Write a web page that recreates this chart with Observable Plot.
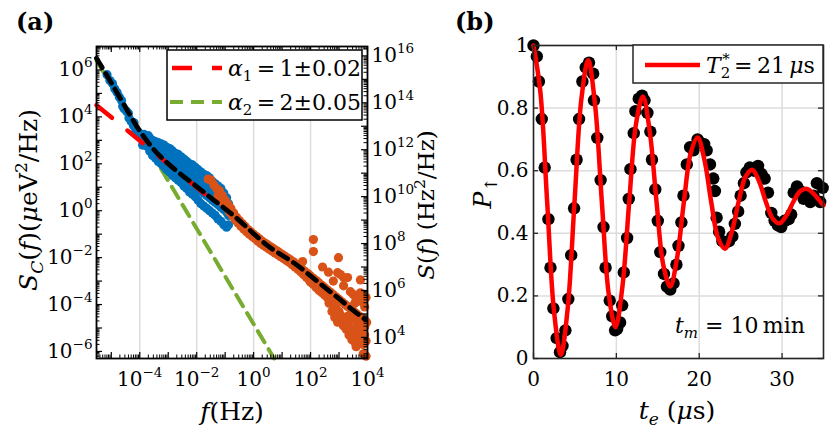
<!DOCTYPE html>
<html><head><meta charset="utf-8">
<script src="https://cdn.jsdelivr.net/npm/d3@7"></script>
<script src="https://cdn.jsdelivr.net/npm/@observablehq/plot@0.6"></script>
<style>
body{margin:0;background:#fff;}
#wrap{position:relative;width:830px;height:430px;overflow:hidden;background:#fff;}
#wrap svg{position:absolute;top:0;overflow:visible;}
</style></head><body><div id="wrap"></div>
<script>
// ---------------- Panel (a) data (log10 values) ----------------
const blueTrackLogF = [-5.15,-5.05,-4.96,-4.88,-4.8,-4.72,-4.64,-4.6,-4.55,-4.47,-4.4,-4.38,-4.3,-4.22,-4.2,-4.14,-4.05,-3.97,-3.9,-3.88,-3.85,-3.8,-3.75,-3.72,-3.7];
const blueTrackLogS = [5.8,5.55,5.42,5.2,5.05,4.85,4.7,4.45,4.35,4.25,4.15,3.95,3.8,3.62,3.75,3.45,3.35,3.2,2.8,3.12,3.25,3.05,2.75,2.95,3.2];
const blueBandLogF = [-3.65,-3.55,-3.45,-3.35,-3.25,-3.15,-3.05,-2.95,-2.85,-2.75,-2.65,-2.55,-2.45,-2.35,-2.25,-2.15,-2.05,-1.95,-1.85,-1.75,-1.65,-1.55,-1.45,-1.35,-1.25,-1.15,-1.05,-0.95,-0.88];
const blueBandTop = [3.1,3.0,2.95,2.9,2.85,2.8,2.7,2.65,2.55,2.45,2.4,2.3,2.2,2.1,2.0,1.95,1.85,1.75,1.65,1.55,1.5,1.4,1.25,1.15,1.05,0.95,0.75,0.55,0.3];
const blueBandUpper = [2.92,2.8,2.72,2.65,2.57,2.5,2.38,2.33,2.2,2.12,2.02,1.93,1.82,1.72,1.62,1.55,1.45,1.35,1.25,1.15,1.07,0.97,0.85,0.75,0.65,0.55,0.4,0.25,0.05];
const blueBandMid = [2.75,2.6,2.5,2.4,2.3,2.2,2.05,2.0,1.85,1.8,1.65,1.55,1.45,1.35,1.25,1.15,1.05,0.95,0.85,0.75,0.65,0.55,0.45,0.35,0.25,0.15,0.05,-0.05,-0.2];
const blueBandLow = [2.55,2.35,2.25,2.1,2.0,1.9,1.75,1.65,1.5,1.4,1.3,1.2,1.05,0.95,0.8,0.7,0.6,0.45,0.3,0.2,0.1,0.0,-0.1,-0.2,-0.35,-0.45,-0.6,-0.7,-0.6];

const orangeBandLogF = [-1.6,-1.5,-1.4,-1.3,-1.2,-1.1,-1.0,-0.9,-0.8,-0.7,-0.6,-0.5,-0.4,-0.3,-0.2,-0.1,0,0.1,0.2,0.3,0.4,0.5,0.6,0.7,0.8,0.9,1.0,1.1,1.2,1.3,1.4,1.5,1.6,1.7,1.8,1.9,2.0,2.1,2.2,2.3,2.4,2.5,2.6,2.7,2.8,2.9,3.0,3.1,3.2,3.3,3.4,3.5,3.6,3.7,3.8,3.9,3.97];
const orangeBandLogS = [1.35,1.3,1.1,0.95,0.85,0.65,0.45,0.28,0.1,-0.1,-0.28,-0.42,-0.55,-0.67,-0.8,-0.9,-1.0,-1.1,-1.2,-1.3,-1.38,-1.46,-1.54,-1.62,-1.7,-1.78,-1.86,-1.94,-2.02,-2.1,-2.18,-2.28,-2.38,-2.48,-2.58,-2.68,-2.78,-2.88,-2.98,-3.08,-3.18,-3.28,-3.38,-3.48,-3.58,-3.68,-3.78,-3.88,-3.98,-4.08,-4.18,-4.28,-4.38,-4.48,-4.58,-4.68,-4.75];
const orangeBand2LogF = [-1.25,-1.15,-1.05,-0.95,-0.85,-0.75,-0.65,-0.55,-0.45,-0.35,-0.25,-0.15,-0.05,0.05,0.15,0.25,0.35,0.45,0.55,0.65,0.75,0.85,0.95,1.05,1.15,1.25,1.35,1.45,1.55,1.65,1.75,1.85,1.95];
const orangeBand2LogS = [0.65,0.5,0.3,0.15,-0.05,-0.2,-0.38,-0.52,-0.66,-0.78,-0.9,-1.0,-1.1,-1.2,-1.3,-1.4,-1.48,-1.56,-1.64,-1.72,-1.8,-1.88,-1.96,-2.04,-2.12,-2.2,-2.3,-2.4,-2.5,-2.6,-2.72,-2.84,-2.95];
const orangeLowLogF = [2.0,2.1,2.2,2.3,2.4,2.5,2.6,2.65,2.7,2.75,2.8,2.85,2.9,2.95,3.0,3.05,3.1,3.15,3.2,3.25,3.3,3.35,3.4,3.45,3.5,3.55,3.6,3.65,3.7,3.75,3.8,3.85,3.9,3.95,3.5,3.6,3.7,3.8,3.9,3.85,3.95,3.3,3.4];
const orangeLowLogS = [-3.05,-3.15,-3.28,-3.4,-3.5,-3.6,-3.72,-3.95,-3.85,-4.3,-4.0,-4.55,-4.15,-4.75,-4.3,-4.45,-4.55,-4.9,-4.7,-5.05,-4.85,-5.3,-5.0,-5.5,-5.15,-5.6,-4.9,-5.35,-5.1,-5.5,-4.95,-5.7,-5.3,-5.55,-4.6,-5.8,-4.8,-5.25,-4.95,-6.1,-6.2,-4.5,-4.6];
const orangeOutLogF = [1.72,2.1,2.1,2.42,2.63,2.8,2.95,2.98,3.05,3.16,3.16,3.3,3.4,3.5,3.55,3.6,3.65,3.75,3.75,3.82,3.85,3.9,3.95];
const orangeOutLogS = [-2.17,-1.23,-1.74,-2.4,-2.62,-3.0,-2.64,-2.0,-2.72,-2.85,-3.2,-2.85,-3.45,-3.57,-3.95,-3.75,-3.87,-2.95,-3.5,-3.7,-3.9,-4.1,-3.7];

const fitLogF   = [-5.52,-5.0,-4.5,-4.0,-3.5,-3.0,-2.5,-2.0,-1.5,-1.0,-0.5,0.0,0.5,1.0,1.5,2.0,2.5,3.0,3.5,3.93];
const fitLogS   = [6.5,5.45,4.4,3.4,2.6,2.0,1.5,1.03,0.55,0.08,-0.42,-0.98,-1.5,-1.9,-2.3,-2.78,-3.27,-3.75,-4.25,-4.65];
const alpha1LogF = [-5.52,-1.4];
const alpha1LogS = [4.5,0.4];
const alpha2LogF = [-5.52,0.72];
const alpha2LogS = [6.4,-6.3];

const xTickExp = [-4,-2,0,2,4];
const yTickExp = [-6,-4,-2,0,2,4,6];
const rightTickExp = [4,6,8,10,12,14,16];
const RIGHT_OFFSET = 9.4;   // right axis = left axis × 10^9.4
const legendA = ["α", "1", "=1±0.02", "α", "2", "=2±0.05"];

// ---------------- Panel (b) data ----------------
const teData = [0.0,0.4,0.65,1.0,1.35,1.8,2.05,2.4,2.8,3.2,3.5,3.85,4.2,4.55,4.9,5.2,5.5,5.9,6.3,6.7,7.2,7.3,7.7,8.1,8.45,8.7,9.2,9.5,9.85,10.1,10.45,10.7,10.9,11.3,11.5,11.7,12.1,12.3,12.7,13.1,13.4,13.75,14.1,14.3,14.7,15.0,15.3,15.75,16.1,16.5,16.9,17.25,17.5,17.85,18.1,18.5,18.9,19.3,19.8,20.1,20.6,20.9,21.3,21.7,21.9,22.1,22.4,22.8,23.2,23.6,24.0,24.3,24.7,25.0,25.4,25.7,26.1,26.6,27.1,27.5,27.9,28.3,28.7,29.1,29.5,29.9,30.3,30.8,31.1,31.4,31.8,32.2,32.6,33.0,33.4,33.8,34.2,34.6,34.9];
const pData  = [1.0,0.965,0.885,0.765,0.61,0.445,0.29,0.16,0.065,0.02,0.04,0.09,0.19,0.33,0.48,0.635,0.765,0.885,0.93,0.945,0.91,0.825,0.705,0.57,0.42,0.29,0.185,0.135,0.09,0.095,0.115,0.17,0.275,0.385,0.51,0.605,0.72,0.79,0.83,0.84,0.825,0.785,0.725,0.635,0.54,0.44,0.34,0.27,0.23,0.22,0.24,0.3,0.36,0.435,0.52,0.62,0.675,0.665,0.70,0.69,0.685,0.665,0.62,0.575,0.535,0.45,0.405,0.375,0.37,0.375,0.39,0.43,0.47,0.52,0.56,0.595,0.61,0.6,0.615,0.59,0.575,0.53,0.465,0.44,0.425,0.42,0.44,0.445,0.46,0.53,0.55,0.535,0.51,0.515,0.5,0.52,0.56,0.5,0.545];
const teFit = [0,0.825,1.65,2.475,3.3,4.125,4.95,5.775,6.6,7.425,8.25,9.075,9.9,10.725,11.55,12.375,13.2,14.025,14.85,15.675,16.5,17.325,18.15,18.975,19.8,20.625,21.45,22.275,23.1,23.925,24.75,25.575,26.4,27.225,28.05,28.875,29.7,30.525,31.35,32.175,33.0,33.825,34.65,35];
const pFit  = [1.0,0.853,0.5,0.151,0.012,0.160,0.5,0.828,0.953,0.812,0.5,0.207,0.100,0.228,0.5,0.75,0.837,0.726,0.5,0.297,0.230,0.321,0.5,0.656,0.706,0.635,0.5,0.385,0.351,0.404,0.5,0.580,0.603,0.566,0.5,0.447,0.432,0.457,0.5,0.534,0.542,0.526,0.5,0.49];
const bXTicks = [0,10,20,30];
const bYTicks = [0,0.2,0.4,0.6,0.8,1];

// ---------------- helpers ----------------
const FONT = "DejaVu Serif";
const pow = v => 10 ** v;
const zipLog = (F, S) => F.map((f, i) => ({f: pow(f), s: pow(S[i])}));
const expStr = e => "10^" + (e < 0 ? "\u2212" + (-e) : String(e));

function rich(svg, parts, {x, y, size, anchor = "start", rotate = 0, weight = "normal"}) {
  const t = d3.select(svg).append("text")
    .attr("x", x).attr("y", y).attr("text-anchor", anchor)
    .style("font-family", FONT).attr("font-size", size).attr("font-weight", weight)
    .attr("fill", "black");
  if (rotate) t.attr("transform", `rotate(${rotate},${x},${y})`);
  for (const [s, f = "", extra = {}] of parts) {
    const sp = t.append("tspan").text(s);
    if (f.includes("i")) sp.attr("font-style", "italic");
    if (f.includes("_")) sp.attr("font-size", size * 0.68).attr("baseline-shift", -size * 0.22);
    if (f.includes("^")) sp.attr("font-size", size * 0.68).attr("baseline-shift", size * 0.4);
    if (extra.dx) sp.attr("dx", extra.dx);
  }
  return t;
}
function supify(svg, size) {
  d3.select(svg).selectAll("text").each(function () {
    const txt = this.textContent;
    const i = txt.indexOf("^");
    if (i < 0) return;
    const el = d3.select(this);
    el.text(null);
    el.append("tspan").text(txt.slice(0, i));
    el.append("tspan").attr("font-size", size).attr("baseline-shift", 9).text(txt.slice(i + 1));
  });
}
function logTicks(lo, hi) {
  const major = [], minor = [];
  for (let e = Math.floor(Math.log10(lo)) - 1; e <= Math.ceil(Math.log10(hi)); e++)
    for (let k = 1; k < 10; k++) {
      const v = k * 10 ** e;
      if (v >= lo * 0.999 && v <= hi * 1.001) (k === 1 ? major : minor).push(v);
    }
  return {major, minor};
}

const wrap = document.getElementById("wrap");

// ---------------- Panel (a) ----------------
const A = {w: 440, h: 430, mt: 46, mr: 73, mb: 72, ml: 96};
const APW = A.w - A.ml - A.mr, APH = A.h - A.mt - A.mb;
const xDomA = [pow(-5.52), 1e4], yDomA = [pow(-6.3), 1e7];
const xt = logTicks(...xDomA), yt = logTicks(...yDomA);
const rt = logTicks(yDomA[0] * pow(RIGHT_OFFSET), yDomA[1] * pow(RIGHT_OFFSET));
const toLeft = v => v / pow(RIGHT_OFFSET);

const blue = [
  ...zipLog(blueTrackLogF, blueTrackLogS),
  ...zipLog(blueBandLogF, blueBandTop),
  ...zipLog(blueBandLogF, blueBandUpper),
  ...zipLog(blueBandLogF, blueBandMid),
  ...zipLog(blueBandLogF, blueBandLow)
];
const orange = [
  ...zipLog(orangeBandLogF, orangeBandLogS),
  ...zipLog(orangeBand2LogF, orangeBand2LogS),
  ...zipLog(orangeLowLogF, orangeLowLogS),
  ...zipLog(orangeOutLogF, orangeOutLogS)
];

const pa = Plot.plot({
  width: A.w, height: A.h,
  marginTop: A.mt, marginRight: A.mr, marginBottom: A.mb, marginLeft: A.ml,
  x: {type: "log", domain: xDomA},
  y: {type: "log", domain: yDomA},
  style: {fontFamily: FONT, fontSize: "20px", background: "white", color: "black"},
  marks: [
    Plot.ruleX(xTickExp.slice(0, -1).map(pow), {stroke: "#dcdcdc", strokeWidth: 1.5}),
    Plot.line(zipLog(alpha2LogF, alpha2LogS), {x: "f", y: "s", stroke: "#77AC30", strokeWidth: 4, strokeDasharray: "13,8"}),
    Plot.dot(blue, {x: "f", y: "s", r: 4.6, fill: "#0072BD"}),
    Plot.dot(orange, {x: "f", y: "s", r: 4.6, fill: "#D95319"}),
    Plot.line(zipLog(alpha1LogF, alpha1LogS), {x: "f", y: "s", stroke: "#FF0000", strokeWidth: 4.5, strokeDasharray: "20,20"}),
    Plot.line(zipLog(fitLogF, fitLogS), {x: "f", y: "s", stroke: "black", strokeWidth: 4.8, strokeDasharray: "11,7", curve: "monotone-x"}),
    Plot.tickX(xt.major, {x: d => d, insetTop: APH - 6, stroke: "black", strokeWidth: 1.2}),
    Plot.tickX(xt.minor, {x: d => d, insetTop: APH - 3.5, stroke: "black", strokeWidth: 1}),
    Plot.tickX(xt.major, {x: d => d, insetBottom: APH - 6, stroke: "black", strokeWidth: 1.2}),
    Plot.tickX(xt.minor, {x: d => d, insetBottom: APH - 3.5, stroke: "black", strokeWidth: 1}),
    Plot.tickY(yt.major, {y: d => d, insetRight: APW - 6, stroke: "black", strokeWidth: 1.2}),
    Plot.tickY(yt.minor, {y: d => d, insetRight: APW - 3.5, stroke: "black", strokeWidth: 1}),
    Plot.tickY(rt.major.map(toLeft), {y: d => d, insetLeft: APW - 6, stroke: "black", strokeWidth: 1.2}),
    Plot.tickY(rt.minor.map(toLeft), {y: d => d, insetLeft: APW - 3.5, stroke: "black", strokeWidth: 1}),
    Plot.frame({stroke: "black", strokeWidth: 1.8}),
    Plot.axisX(xTickExp.map(pow), {anchor: "bottom", tickSize: 0, tickPadding: 13, label: null,
      tickFormat: d => expStr(Math.round(Math.log10(d)))}),
    Plot.axisY(yTickExp.map(pow), {anchor: "left", tickSize: 0, tickPadding: 4, label: null,
      tickFormat: d => expStr(Math.round(Math.log10(d)))}),
    Plot.axisY(rightTickExp.map(e => toLeft(pow(e))), {anchor: "right", tickSize: 0, tickPadding: 4, label: null,
      tickFormat: d => expStr(Math.round(Math.log10(d) + RIGHT_OFFSET))})
  ]
});
pa.style.left = "0px";
wrap.appendChild(pa);
supify(pa, 13.5);

// legend (a)
{
  const g = d3.select(pa).append("g");
  g.append("rect").attr("x", 167).attr("y", 50).attr("width", 195).attr("height", 70)
    .attr("fill", "white").attr("stroke", "black").attr("stroke-width", 1.5);
  g.append("line").attr("x1", 172).attr("x2", 222).attr("y1", 68).attr("y2", 68)
    .attr("stroke", "#FF0000").attr("stroke-width", 4.5).attr("stroke-dasharray", "20,20");
  g.append("line").attr("x1", 170).attr("x2", 222).attr("y1", 102).attr("y2", 102)
    .attr("stroke", "#77AC30").attr("stroke-width", 4).attr("stroke-dasharray", "13,8");
  rich(pa, [[legendA[0], "i"], [legendA[1], "_"], [legendA[2].replace("=", "\u2009=\u2009")]], {x: 228, y: 76, size: 22});
  rich(pa, [[legendA[3], "i"], [legendA[4], "_"], [legendA[5].replace("=", "\u2009=\u2009")]], {x: 228, y: 110, size: 22});
}
rich(pa, [["(a)"]], {x: 16, y: 30, size: 24, weight: "bold"});
rich(pa, [["f", "i"], ["(Hz)"]], {x: 232, y: 420, size: 25, anchor: "middle"});
rich(pa, [["S", "i"], ["C", "i_"], ["("], ["f", "i"], [")("], ["μ", "i"], ["eV"], ["2", "^"], ["/Hz)"]],
  {x: 37, y: 200, size: 25, anchor: "middle", rotate: -90});
rich(pa, [["S", "i"], ["("], ["f", "i"], [") (Hz"], ["2", "^"], ["/Hz)"]],
  {x: 434, y: 205, size: 23, anchor: "middle", rotate: -90});

// ---------------- Panel (b) ----------------
const B = {w: 390, h: 430, mt: 45, mr: 7, mb: 72, ml: 93, left: 440};
const BPW = B.w - B.ml - B.mr, BPH = B.h - B.mt - B.mb;
const bData = teData.map((t, i) => ({t, p: pData[i]}));
const bFit = teFit.map((t, i) => ({t, p: pFit[i]}));

const pb = Plot.plot({
  width: B.w, height: B.h,
  marginTop: B.mt, marginRight: B.mr, marginBottom: B.mb, marginLeft: B.ml,
  x: {domain: [0, 35]},
  y: {domain: [0, 1]},
  style: {fontFamily: FONT, fontSize: "20px", background: "white", color: "black"},
  marks: [
    Plot.ruleX(bXTicks, {stroke: "#dcdcdc", strokeWidth: 1.5}),
    Plot.ruleY(bYTicks, {stroke: "#dcdcdc", strokeWidth: 1.5}),
    Plot.dot(bData, {x: "t", y: "p", r: 6.2, fill: "black"}),
    Plot.line(bFit, {x: "t", y: "p", stroke: "#FF0000", strokeWidth: 4.5, curve: "catmull-rom"}),
    Plot.tickX(bXTicks, {x: d => d, insetTop: BPH - 5, stroke: "#262626", strokeWidth: 1.3}),
    Plot.tickX(bXTicks, {x: d => d, insetBottom: BPH - 5, stroke: "#262626", strokeWidth: 1.3}),
    Plot.tickY(bYTicks, {y: d => d, insetRight: BPW - 5, stroke: "#262626", strokeWidth: 1.3}),
    Plot.tickY(bYTicks, {y: d => d, insetLeft: BPW - 5, stroke: "#262626", strokeWidth: 1.3}),
    Plot.frame({stroke: "#262626", strokeWidth: 1.6}),
    Plot.axisX(bXTicks, {anchor: "bottom", tickSize: 0, tickPadding: 13, label: null, tickFormat: d => String(d)}),
    Plot.axisY(bYTicks, {anchor: "left", tickSize: 0, tickPadding: 5, label: null,
      tickFormat: d => (d === 0 || d === 1) ? String(d) : d.toFixed(1)})
  ]
});
pb.style.left = B.left + "px";
wrap.appendChild(pb);

{
  const g = d3.select(pb).append("g");
  const ox = B.left;
  g.append("rect").attr("x", 633 - ox).attr("y", 45).attr("width", 190).attr("height", 38)
    .attr("fill", "white").attr("stroke", "#262626").attr("stroke-width", 1.5);
  g.append("line").attr("x1", 645 - ox).attr("x2", 700 - ox).attr("y1", 65).attr("y2", 65)
    .attr("stroke", "#FF0000").attr("stroke-width", 4.5);
  rich(pb, [["T", "i"], ["2", "_"], ["*", "^", {dx: -8}], ["\u2009=\u200921\u2009"], ["μ", "i"], ["s"]],
    {x: 706 - ox, y: 73, size: 22});
  rich(pb, [["t", "i"], ["m", "i_"], [" = 10\u2009min"]], {x: 675 - ox, y: 333, size: 22});
  rich(pb, [["(b)"]], {x: 455 - ox, y: 30, size: 24, weight: "bold"});
  rich(pb, [["t", "i"], ["e", "i_"], [" ("], ["μ", "i"], ["s)"]], {x: 677 - ox, y: 419, size: 25, anchor: "middle"});
  rich(pb, [["P", "i"], ["↑", "_"]], {x: 491 - ox, y: 193, size: 25, anchor: "middle", rotate: -90});
}
</script></body></html>
